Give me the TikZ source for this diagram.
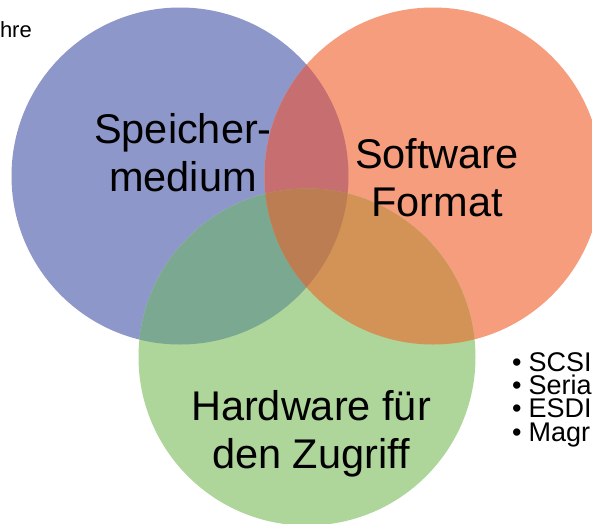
\documentclass[tikz,border=0pt]{standalone}
\usepackage{fontspec}
\setmainfont{Liberation Sans}
\usepackage{tikz}
\usetikzlibrary{shapes,backgrounds}

\definecolor{medblue}{RGB}{142,151,202}
\definecolor{fmtorange}{RGB}{245,157,125}
\definecolor{hwgreen}{RGB}{174,214,154}
\definecolor{medfmt}{RGB}{198,110,112}
\definecolor{medhw}{RGB}{123,168,144}
\definecolor{fmthw}{RGB}{211,146,86}
\definecolor{allthree}{RGB}{189,125,83}

\tikzset{
  circMed/.style={ circle, fill=medblue, minimum size=337pt, inner sep=0pt }
}
\tikzset{
  circFmt/.style={ circle, fill=fmtorange, minimum size=337pt, inner sep=0pt }
}
\tikzset{
  circHw/.style={ circle, fill=hwgreen, minimum size=337pt, inner sep=0pt }
}
\tikzset{
  bigtxt/.style={ align=center, inner sep=0pt, font=\fontsize{41.5}{48}\selectfont }
}
\tikzset{
  sidetxt/.style={ align=left, inner sep=0pt, font=\fontsize{27}{23.3}\selectfont }
}

\begin{document}
\begin{tikzpicture}[x=1pt, y=-1pt]
      \useasboundingbox (0,0) rectangle (592,523);
      \clip (0,0) rectangle (592,523);

      \node[circMed] (med) at (180, 176) {};
      \node[circFmt] (fmt) at (433, 176) {};
      \node[circHw] (hw) at (307, 357) {};

      % overlaps
      \begin{scope}
        \clip (med.center) circle[radius=168.5pt];
        \fill[medfmt] (fmt.center) circle[radius=168.5pt];
        \fill[medhw] (hw.center) circle[radius=168.5pt];
      \end{scope}
      \begin{scope}
        \clip (fmt.center) circle[radius=168.5pt];
        \fill[fmthw] (hw.center) circle[radius=168.5pt];
      \end{scope}
      \begin{scope}
        \clip (med.center) circle[radius=168.5pt];
        \clip (fmt.center) circle[radius=168.5pt];
        \fill[allthree] (hw.center) circle[radius=168.5pt];
      \end{scope}

      % base anchor sits on the last line
      \node[bigtxt, anchor=base] (medtxt) at (183, 191) {Speicher-\\medium};
      \node[bigtxt, anchor=base] (fmttxt) at (437, 216) {Software\\Format};
      \node[bigtxt, anchor=base] (hwtxt) at (311, 468) {Hardware für\\den Zugriff};

      \node[font=\fontsize{22}{26}\selectfont, inner sep=0pt, anchor=base east] (yrs) at (32, 37) {hre};
      \node[sidetxt, anchor=base west] (ifc) at (512, 441)
        {•\hspace{7pt}SCSI\\•\hspace{7pt}Seria\\•\hspace{7pt}ESDI\\•\hspace{7pt}Magr};
    \end{tikzpicture}
\end{document}
